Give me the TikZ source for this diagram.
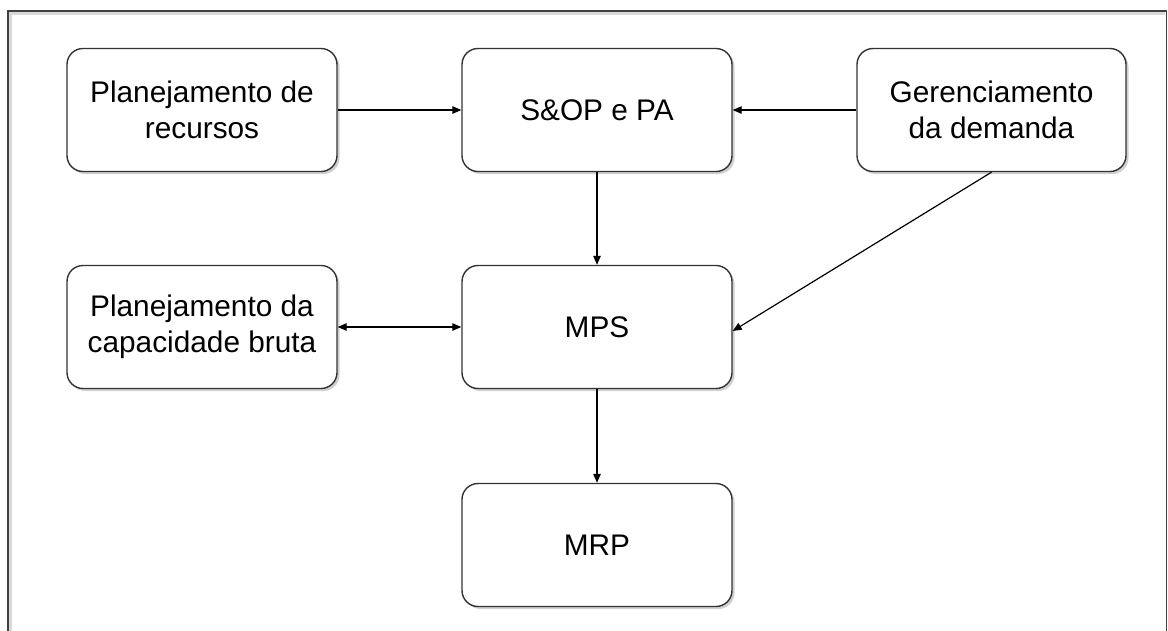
\documentclass[tikz,border=0pt]{standalone}
\usepackage{fontspec}
\setmainfont{Liberation Sans}
\usetikzlibrary{arrows.meta,shadows}
\begin{document}
\begin{tikzpicture}[x=1pt,y=-1pt,
  stepbox/.style={draw=black!80, line width=1.4pt, fill=white, rounded corners=16pt,
    minimum width=270pt, minimum height=123pt, inner sep=0pt, align=center,
    font=\fontsize{29.8}{36}\selectfont,
    drop shadow={shadow xshift=2.5pt, shadow yshift=-2.5pt, opacity=0.3, fill=black!60}},
  link/.style={line width=1.2pt, -{Triangle[length=9pt,width=7.5pt]}},
  biglink/.style={line width=1.2pt, {Triangle[length=9pt,width=7.5pt]}-{Triangle[length=9pt,width=7.5pt]}}
]
% canvas and outer frame
\useasboundingbox (0,0) rectangle (1168,630);
\fill[white] (0,0) rectangle (1168,630);
\draw[black!15, line width=3pt] (10.5,640) -- (10.5,13.5) -- (1164.5,13.5);
\draw[black!75, line width=1.5pt] (8,640) -- (8,11) -- (1166.5,11) -- (1166.5,640);

% process boxes
\node[stepbox] (rec) at (202,110) {Planejamento de\\recursos};
\node[stepbox] (sop) at (597,110) {S\&OP e PA};
\node[stepbox, minimum width=269pt] (dem) at (991.5,110) {Gerenciamento\\da demanda};
\node[stepbox] (cap) at (202,327) {Planejamento da\\capacidade bruta};
\node[stepbox] (mps) at (597,327) {MPS};
\node[stepbox] (mrp) at (597,545) {MRP};

% flows
\draw[link] (rec) -- (sop);
\draw[link] (dem) -- (sop);
\draw[link] (sop) -- (mps);
\draw[link] (dem.south) -- ([yshift=-4pt]mps.east);
\draw[biglink] (cap) -- (mps);
\draw[link] (mps) -- (mrp);
\end{tikzpicture}
\end{document}
